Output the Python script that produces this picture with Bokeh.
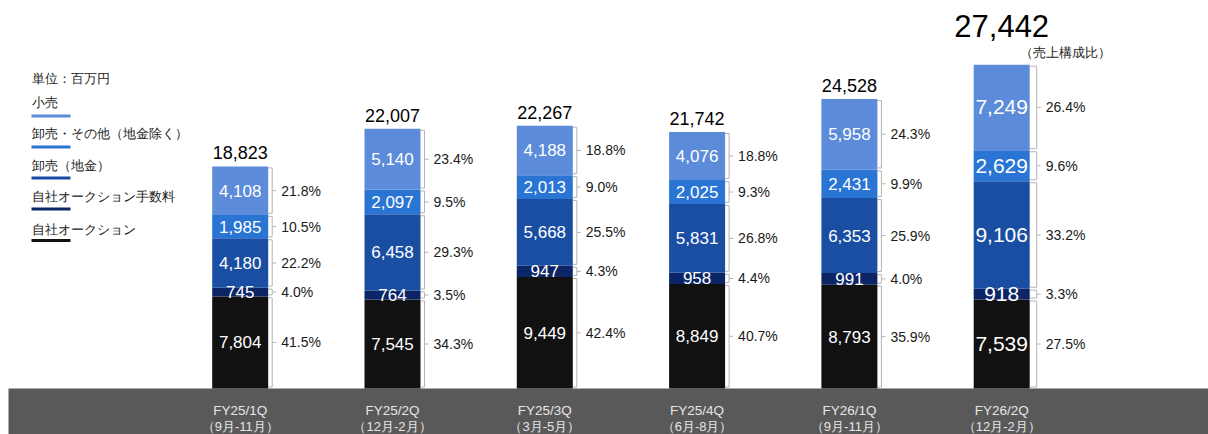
import numpy as np
from bokeh.plotting import figure
from bokeh.models import ColumnDataSource, Range1d, BoxAnnotation
from bokeh.core.properties import value
from bokeh.embed import file_html
from bokeh.resources import INLINE

# ---------------- data ----------------
periods = ["FY25/1Q", "FY25/2Q", "FY25/3Q", "FY25/4Q", "FY26/1Q", "FY26/2Q"]
months = ["（9月-11月）", "（12月-2月）", "（3月-5月）", "（6月-8月）", "（9月-11月）", "（12月-2月）"]

series_names = ["自社オークション", "自社オークション手数料", "卸売（地金）", "卸売・その他（地金除く）", "小売"]
auction = [7804, 7545, 9449, 8849, 8793, 7539]
fee = [745, 764, 947, 958, 991, 918]
bullion = [4180, 6458, 5668, 5831, 6353, 9106]
other = [1985, 2097, 2013, 2025, 2431, 2629]
retail = [4108, 5140, 4188, 4076, 5958, 7249]
totals = [18823, 22007, 22267, 21742, 24528, 27442]

auction_pct = [41.5, 34.3, 42.4, 40.7, 35.9, 27.5]
fee_pct = [4.0, 3.5, 4.3, 4.4, 4.0, 3.3]
bullion_pct = [22.2, 29.3, 25.5, 26.8, 25.9, 33.2]
other_pct = [10.5, 9.5, 9.0, 9.3, 9.9, 9.6]
retail_pct = [21.8, 23.4, 18.8, 18.8, 24.3, 26.4]

unit_label = "単位：百万円"
ratio_label = "（売上構成比）"

# ---------------- styling / layout ----------------
colors = ["#111111", "#0b2566", "#1a4ea3", "#2a74d3", "#5b8bd9"]
FONT = "Liberation Sans"
W, H = 1208, 434
PXU = 152.3          # pixels per category
X0 = 239.7           # canvas x of first bar centre
BASE = 388           # canvas y of bar base
YU = 84.75           # data units per pixel


def dx(px):
    return (px - X0) / PXU


def dy(py):
    return (BASE - py) * YU


p = figure(width=W, height=H, x_range=Range1d(dx(0), dx(W)), y_range=Range1d(dy(H), dy(0)),
           output_backend="svg", toolbar_location=None, min_border=0)
p.axis.visible = False
p.grid.visible = False
p.outline_line_color = None
p.background_fill_color = "white"
p.border_fill_color = "white"

# gray category band
p.add_layout(BoxAnnotation(top=0, left=dx(8), fill_color="#595959", fill_alpha=1.0,
                           line_color=None, level="underlay"))

idx = list(range(len(periods)))
series = [auction, fee, bullion, other, retail]
pcts = [auction_pct, fee_pct, bullion_pct, other_pct, retail_pct]
keys = ["s0", "s1", "s2", "s3", "s4"]
src = ColumnDataSource(dict(x=idx, **{k: v for k, v in zip(keys, series)}))
bw = 56 / PXU
p.vbar_stack(keys, x="x", width=bw, color=colors, line_color=None, source=src)

# segment labels / brackets
arr = np.array(series, dtype=float)
cum_top = np.cumsum(arr, axis=0)
cum_bot = cum_top - arr
emph = [i == len(idx) - 1 for i in idx]

lx, ly, lt, lfs = [], [], [], []
px_, py_, pt_ = [], [], []
bxs, bys = [], []
g = 1.5 * YU
for s in range(len(series)):
    for i in idx:
        top, bot = cum_top[s, i], cum_bot[s, i]
        mid = (top + bot) / 2
        lx.append(i); ly.append(mid); lt.append(f"{int(arr[s, i]):,}")
        lfs.append("21px" if emph[i] else "17px")
        edge = i + 28 / PXU
        off = 7 if emph[i] else 4
        xv = i + (28 + off) / PXU
        xt = i + (28 + off + 4) / PXU
        bxs.append([edge, xv, xv, edge]); bys.append([top - g, top - g, bot + g, bot + g])
        bxs.append([xv, xt]); bys.append([mid, mid])
        px_.append(i + (28 + off + 9) / PXU); py_.append(mid); pt_.append(f"{pcts[s][i]:.1f}%")

p.multi_line(bxs, bys, line_color="#b4b4b4", line_width=1)
p.text(lx, ly, text=lt, text_color="white", text_font=value(FONT), text_font_size=lfs,
       text_align="center", text_baseline="middle")
p.text(px_, py_, text=pt_, text_color="#1a1a1a", text_font=value(FONT), text_font_size="14px",
       text_align="left", text_baseline="middle")

# totals
tsrc = ColumnDataSource(dict(x=idx, y=totals, t=[f"{v:,}" for v in totals],
                             fs=["31px" if e else "18px" for e in emph],
                             yo=[-28 if e else -7 for e in emph]))
p.text("x", "y", text="t", source=tsrc, text_color="black", text_font=value(FONT),
       text_font_size="fs", y_offset="yo", text_align="center", text_baseline="bottom")

# ratio caption above last bar
p.text([idx[-1]], [totals[-1]], text=[ratio_label], x_offset=64, y_offset=-12,
       text_color="#222222", text_font=value(FONT), text_font_size="13px",
       text_align="center", text_baseline="middle")

# category labels
p.text(idx, [dy(410)] * len(idx), text=periods, text_color="#e6e6e6", text_font=value(FONT),
       text_font_size="13.5px", text_align="center", text_baseline="middle")
p.text(idx, [dy(426)] * len(idx), text=months, text_color="#e6e6e6", text_font=value(FONT),
       text_font_size="13px", text_align="center", text_baseline="middle")

# legend
p.text([dx(31)], [dy(78)], text=[unit_label], text_color="#222222", text_font=value(FONT),
       text_font_size="13px", text_align="left", text_baseline="middle")
leg_names = list(reversed(series_names))
leg_colors = list(reversed(colors))
text_y = [101.5, 133, 165, 195.5, 228.5]
line_y = [115.5, 146.5, 177.5, 208.5, 240]
p.text([dx(31)] * 5, [dy(v) for v in text_y], text=leg_names, text_color="#222222",
       text_font=value(FONT), text_font_size="13px", text_align="left", text_baseline="middle")
p.multi_line([[dx(31), dx(70)] for _ in range(5)], [[dy(v), dy(v)] for v in line_y],
             line_color=leg_colors, line_width=3)

open("out.html", "w").write(file_html(p, INLINE))
